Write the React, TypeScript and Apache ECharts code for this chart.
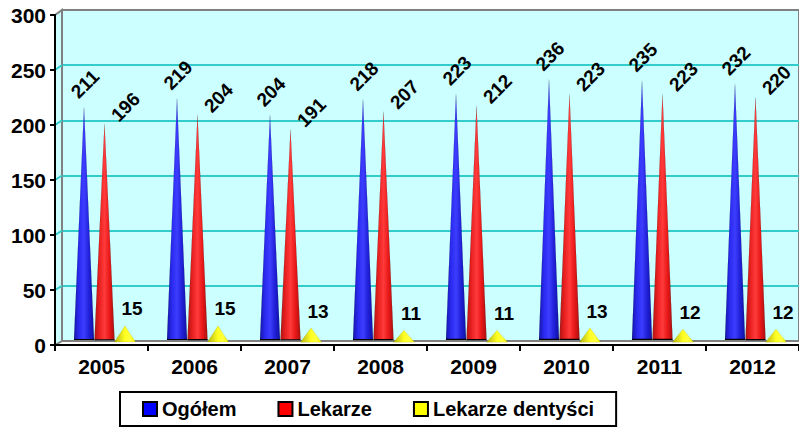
import React, { useEffect, useRef } from 'react';
import * as echarts from 'echarts';

const categories = ['2005', '2006', '2007', '2008', '2009', '2010', '2011', '2012'];
const ogolem = [211, 219, 204, 218, 223, 236, 235, 232];
const lekarze = [196, 204, 191, 207, 212, 223, 223, 220];
const dentysci = [15, 15, 13, 11, 11, 13, 12, 12];
const seriesNames = ['Ogółem', 'Lekarze', 'Lekarze dentyści'];
const yMax = 300;
const yInterval = 50;
const wallTicks = [50, 100, 150, 200, 250];

const FONT = 'Arial, "Liberation Sans", sans-serif';

// convert a wanted on-screen label offset into the label's rotated frame
const rotOffset = (dx: number, dy: number, deg: number) => {
  const a = (deg * Math.PI) / 180;
  const c = Math.cos(a);
  const s = Math.sin(a);
  return [dx * c - dy * s, dx * s + dy * c];
};

export default function App() {
  const ref = useRef<HTMLDivElement>(null);
  useEffect(() => {
    const chart = echarts.init(ref.current!, null, { renderer: 'svg' });
    const grad = (stops: string[]) => ({
      type: 'linear', x: 0, y: 0, x2: 1, y2: 0,
      colorStops: stops.map((c, i) => ({ offset: i / (stops.length - 1), color: c })),
    });
    const labelBase = {
      show: true, position: 'top', distance: 0, align: 'center', verticalAlign: 'middle',
      fontSize: 19, fontWeight: 'bold', fontFamily: FONT, color: '#000',
    };
    const mk = (name: string, data: number[], stops: string[], offset: number[], rotate: number, w: number) => ({
      type: 'pictorialBar', name, data, xAxisIndex: 1, yAxisIndex: 1,
      symbol: 'triangle', symbolSize: [w, '100%'], symbolOffset: [3, 0],
      barWidth: 20, barGap: '2.5%',
      itemStyle: { color: grad(stops), borderColor: '#000', borderWidth: 2 },
      label: { ...labelBase, rotate, offset: rotOffset(offset[0], offset[1], rotate) },
      z: 3,
    });
    const wallLines = wallTicks.map((v) => ({
      type: 'line',
      shape: { x1: 55, y1: 345 - 1.1 * v, x2: 62, y2: 341 - (331 / yMax) * v },
      style: { stroke: '#33CCCC', lineWidth: 2 },
      z: 1,
    }));
    const axisText = { fontSize: 21, fontWeight: 'bold', fontFamily: FONT, color: '#000' };
    chart.setOption({
      animation: false,
      backgroundColor: '#fff',
      grid: [
        { left: 62, right: -10, top: 10, bottom: 89, show: true, backgroundColor: '#CCFFFF', borderColor: '#808080', borderWidth: 2 },
        { left: 55, right: 0, top: 13, bottom: 87 },
        { left: 55, right: 0, top: 15, bottom: 85 },
      ],
      graphic: [
        {
          type: 'polygon', z: 1,
          shape: { points: [[55, 15], [62, 10], [62, 341], [55, 345]] },
          style: { fill: '#CCFFFF', stroke: '#808080', lineWidth: 2 },
        },
        ...wallLines,
      ],
      xAxis: [
        { gridIndex: 0, type: 'category', data: categories, show: false },
        { gridIndex: 1, type: 'category', data: categories, show: false },
        {
          gridIndex: 2, type: 'category', data: categories, z: 10,
          axisLine: { show: true, lineStyle: { color: '#000', width: 2 } },
          axisTick: { show: true, length: 6, lineStyle: { color: '#000', width: 2 } },
          axisLabel: { ...axisText, margin: 11 },
          splitLine: { show: false },
        },
      ],
      yAxis: [
        {
          gridIndex: 0, type: 'value', min: 0, max: yMax, interval: yInterval,
          axisLine: { show: false }, axisTick: { show: false }, axisLabel: { show: false },
          splitLine: { show: true, showMinLine: false, showMaxLine: false, lineStyle: { color: '#33CCCC', width: 2 } },
        },
        { gridIndex: 1, type: 'value', min: 0, max: yMax, show: false },
        {
          gridIndex: 2, type: 'value', min: 0, max: yMax, interval: yInterval, z: 10,
          axisLine: { show: true, lineStyle: { color: '#000', width: 2 } },
          axisTick: { show: true, length: 5, lineStyle: { color: '#000', width: 2 } },
          axisLabel: { ...axisText, margin: 9 },
          splitLine: { show: false },
        },
      ],
      legend: {
        left: 120, top: 392, padding: [7, 22, 7, 22], itemGap: 41,
        itemWidth: 14, itemHeight: 14, borderColor: '#000', borderWidth: 2,
        icon: 'rect', selectedMode: false,
        textStyle: { fontSize: 20, fontWeight: 'bold', fontFamily: FONT, color: '#000' },
        data: [
          { name: seriesNames[0], itemStyle: { color: '#0000FF', borderColor: '#000', borderWidth: 2 } },
          { name: seriesNames[1], itemStyle: { color: '#FF0000', borderColor: '#000', borderWidth: 2 } },
          { name: seriesNames[2], itemStyle: { color: '#FFFF00', borderColor: '#000', borderWidth: 2 } },
        ],
      },
      series: [
        mk(seriesNames[0], ogolem, ['#1515A8', '#2A2AF0', '#3D3DFF', '#2020D8', '#1010A0'], [4, -20], 45, 20),
        mk(seriesNames[1], lekarze, ['#B01414', '#E82020', '#FF3A3A', '#E81818', '#A81010'], [24, -14], 45, 20),
        mk(seriesNames[2], dentysci, ['#B8B800', '#D8D820', '#FFFF20', '#FFFF40', '#F0F000'], [10, -16], 0, 21),
      ],
    });
    return () => chart.dispose();
  }, []);
  return (
    <div style={{ position: 'absolute', left: 0, top: 0 }}>
      <div ref={ref} style={{ width: 799, height: 430 }} />
    </div>
  );
}
